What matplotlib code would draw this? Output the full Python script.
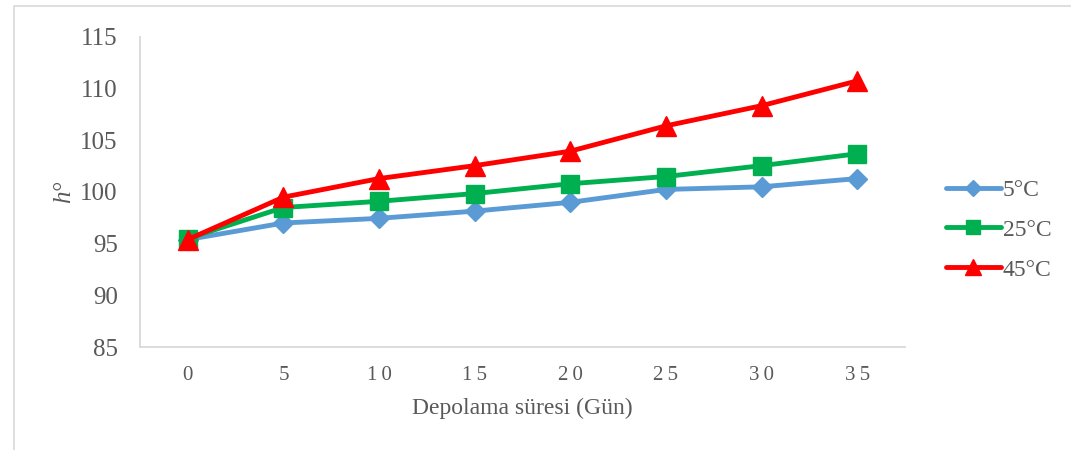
import matplotlib
matplotlib.use("Agg")
import matplotlib.pyplot as plt
from matplotlib.patches import Rectangle

# Storage time (days) and hue angle values for each storage temperature
days = [0, 5, 10, 15, 20, 25, 30, 35]
day_labels = ["0", "5", "1\u20090", "1\u20095", "2\u20090", "2\u20095", "3\u20090", "3\u20095"]
series_names = ["5°C", "25°C", "45°C"]
hue_5c = [95.4, 97.0, 97.45, 98.15, 99.0, 100.25, 100.5, 101.3]
hue_25c = [95.5, 98.5, 99.1, 99.85, 100.8, 101.5, 102.55, 103.7]
hue_45c = [95.4, 99.5, 101.3, 102.55, 103.95, 106.4, 108.35, 110.75]

plt.rcParams["font.family"] = ["Liberation Serif", "DejaVu Serif"]
text_color = "#595959"
grid_color = "#D9D9D9"

fig = plt.figure(figsize=(10.71, 4.5), dpi=100)
ax = fig.add_axes([140 / 1071, 1 - 347 / 450, (905 - 140) / 1071, (347 - 37) / 450])

# chart-area border
fig.patches.append(Rectangle((14 / 1071, -0.2), 1.2, 1.2 - 6 / 450,
                             transform=fig.transFigure, fill=False,
                             edgecolor=grid_color, linewidth=1.2, zorder=0))

x = list(range(len(days)))
styles = [
    (hue_5c, "#5B9BD5", "D", 10),
    (hue_25c, "#00B050", "s", 13),
    (hue_45c, "#FF0000", "^", 14),
]
for (vals, color, marker, ms), name in zip(styles, series_names):
    ax.plot(x, vals, color=color, linewidth=3.5, marker=marker, markersize=ms,
            markeredgecolor=color, label=name, solid_capstyle="round")

ax.set_xlim(-0.5, len(days) - 0.5)
ax.set_ylim(85, 115)
ax.set_yticks(range(85, 116, 5))
ax.set_xticks(x)
ax.set_xticklabels(day_labels)

for side in ["top", "right"]:
    ax.spines[side].set_visible(False)
for side in ["left", "bottom"]:
    ax.spines[side].set_color(grid_color)
    ax.spines[side].set_linewidth(1.3)

ax.tick_params(axis="both", length=0, colors=text_color)
ax.tick_params(axis="y", labelsize=18, pad=16)
ax.tick_params(axis="x", labelsize=15, pad=14)

ax.set_xlabel("Depolama süresi (Gün)", fontsize=17, color=text_color, labelpad=9)
ax.set_ylabel("h°", fontsize=18, color=text_color, labelpad=4,
              fontstyle="italic")

leg = fig.legend(loc="center left", bbox_to_anchor=(925 / 1071, 1 - 230 / 450),
                 frameon=False, fontsize=17, handlelength=2.3, handletextpad=0.1,
                 labelspacing=0.78, labelcolor=text_color)
for h in leg.legend_handles:
    h.set_markersize(h.get_markersize() * 0.78)
    h.set_linewidth(3.5)

fig.savefig("out.png", dpi=100)
